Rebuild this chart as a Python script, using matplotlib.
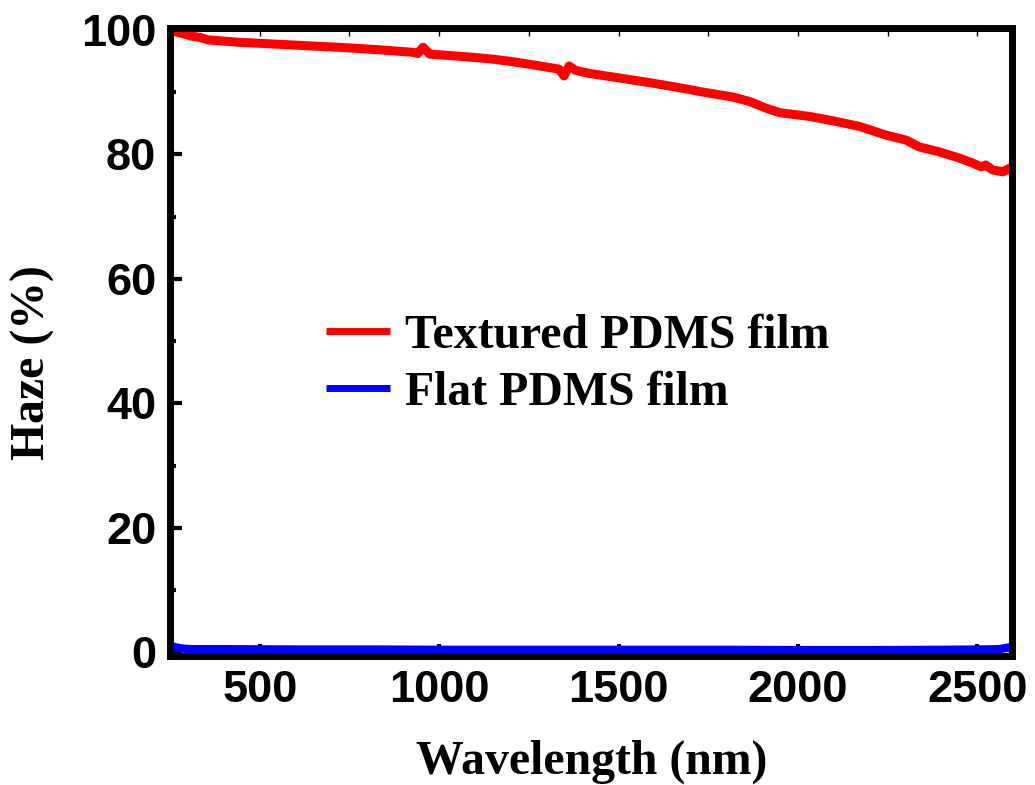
import numpy as np
import matplotlib
matplotlib.use('Agg')
import matplotlib.pyplot as plt
from matplotlib.ticker import MultipleLocator

wl_tex = [250, 265, 286, 310, 333, 345, 355, 400, 444, 500, 583, 650, 722, 780,
          834, 880, 927, 940, 955, 974, 1000, 1093, 1150, 1204, 1270, 1334, 1348,
          1362, 1380, 1419, 1500, 1600, 1700, 1726, 1819, 1865, 1912, 1949, 2032,
          2097, 2171, 2245, 2301, 2338, 2394, 2450, 2487, 2510, 2523, 2542, 2571,
          2590, 2595]
haze_tex = [100.0, 99.7, 99.4, 99.0, 98.8, 98.6, 98.4, 98.2, 98.0, 97.85, 97.6,
            97.4, 97.2, 97.0, 96.8, 96.6, 96.4, 96.2, 97.2, 96.1, 96.0, 95.6,
            95.3, 94.9, 94.3, 93.7, 92.6, 94.2, 93.5, 93.0, 92.3, 91.4, 90.4,
            90.1, 89.2, 88.5, 87.4, 86.7, 86.1, 85.4, 84.5, 83.1, 82.3, 81.2,
            80.4, 79.4, 78.6, 78.0, 78.3, 77.5, 77.2, 77.8, 77.3]

wl_flat = [250, 265, 285, 310, 400, 600, 800, 1000, 1200, 1400, 1600, 1800,
           2000, 2200, 2400, 2500, 2560, 2590, 2595]
haze_flat = [1.1, 0.8, 0.6, 0.5, 0.5, 0.45, 0.45, 0.4, 0.4, 0.4, 0.4, 0.4,
             0.35, 0.35, 0.4, 0.45, 0.5, 0.8, 0.5]

labels = ['Textured PDMS film', 'Flat PDMS film']

serif = 'Liberation Serif'
sans = 'Liberation Sans'

fig = plt.figure(figsize=(10.35, 7.85), dpi=100)
ax = fig.add_axes([0.1643, 0.1643, 0.813, 0.800])

ax.plot(wl_tex, haze_tex, color='#ff0000', lw=6.5, solid_capstyle='round',
        solid_joinstyle='round', label=labels[0])
ax.plot(wl_flat, haze_flat, color='#0000ff', lw=6, solid_capstyle='round',
        solid_joinstyle='round', label=labels[1])

ax.set_xlim(250, 2595)
ax.set_ylim(-0.6, 100.3)

ax.xaxis.set_major_locator(MultipleLocator(500))
ax.xaxis.set_minor_locator(MultipleLocator(250))
ax.yaxis.set_major_locator(MultipleLocator(20))
ax.yaxis.set_minor_locator(MultipleLocator(10))

for s in ax.spines.values():
    s.set_linewidth(5)

ax.tick_params(axis='both', which='major', direction='in', length=8.5, width=3,
               labelsize=32.5, pad=10)
ax.tick_params(axis='both', which='minor', direction='in', length=4.5, width=3)
# thin grey ticks along the top edge
ax.tick_params(axis='x', which='both', top=True, labeltop=False)
for t in ax.xaxis.get_major_ticks() + ax.xaxis.get_minor_ticks():
    t.tick2line.set_color('#999999')
    t.tick2line.set_markeredgewidth(1)
    t.tick2line.set_markersize(6)

for lab in ax.get_xticklabels() + ax.get_yticklabels():
    lab.set_fontfamily(sans)
    lab.set_fontweight('bold')

ax.set_xlabel('Wavelength (nm)', fontfamily=serif, fontweight='bold', fontsize=34.4)
ax.set_ylabel('Haze (%)', fontfamily=serif, fontweight='bold', fontsize=34.4)
ax.xaxis.label.set_va('center')
ax.yaxis.label.set_va('center')
ax.xaxis.set_label_coords(0.501, -0.168)
ax.yaxis.set_label_coords(-0.163, 0.468)

leg = ax.legend(loc='upper left', bbox_to_anchor=(0.185, 0.545), frameon=False,
                prop={'family': serif, 'weight': 'bold', 'size': 34.4},
                handlelength=1.35, handletextpad=0.3, labelspacing=0.27,
                borderpad=0, borderaxespad=0)
for line in leg.get_lines():
    line.set_linewidth(5)
    line.set_solid_capstyle('butt')

fig.savefig('out.png', dpi=100)
